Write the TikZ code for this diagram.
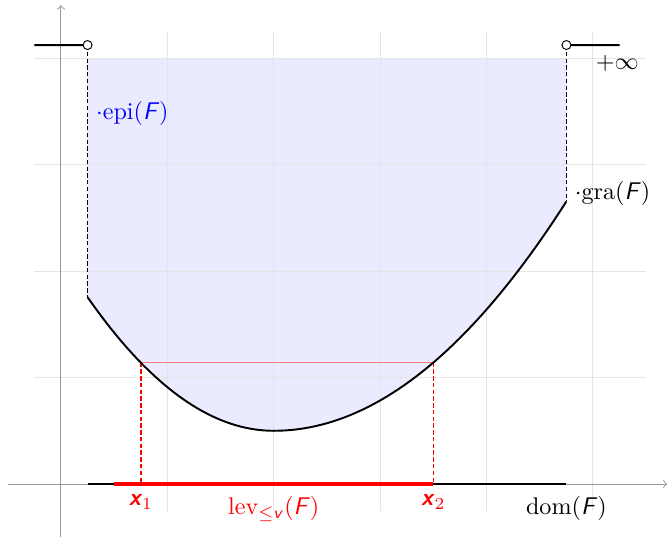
\documentclass[tikz,border=0pt]{standalone}
\usepackage{fontspec}
\usepackage{amsmath}

\begin{document}
\begin{tikzpicture}[
    scale=1.55,
    every node/.style={font=\normalsize},
    shortdash/.style={semithick, dash pattern=on 1.8pt off 1pt}
]
\useasboundingbox (-0.573,-0.489) rectangle (5.696,4.549);

% Epigraph
\fill[blue!8] (0.25,4)
    -- plot[domain=0.25:2,samples=40] (\x,{0.5+0.41*(\x-2)^2})
    -- plot[domain=2:4.75,samples=50] (\x,{0.5+0.285*(\x-2)^2})
    -- (4.75,4) -- cycle;

% Grid
\draw[gray!20, thin] (-0.25,-0.25) grid (5.5,4.25);

% Axes
\draw[->, gray!80] (-0.5,0) -- (5.7,0);
\draw[->, gray!80] (0,-0.5) -- (0,4.5);

% Points
\coordinate (lend) at (0.25,1.756);
\coordinate (rend) at (4.75,2.655);
\coordinate (x1) at (0.751,1.14);
\coordinate (x2) at (3.499,1.14);
\coordinate (x1a) at (0.751,0);
\coordinate (x2a) at (3.499,0);
\coordinate (ltop) at (0.25,4.125);
\coordinate (rtop) at (4.75,4.125);

% Level set
\draw[red, shortdash] (x1) -- (x1a);
\draw[red, shortdash] (x2) -- (x2a);
\draw[red!50] (x1) -- (x2);

% Domain
\draw[line width=1.2pt] (0.25,0) -- (4.75,0);
\draw[red, line width=1.7pt] (0.5,0) -- (x2a);

% Graph
\draw[thick]
    plot[domain=0.25:2,samples=40] (\x,{0.5+0.41*(\x-2)^2})
    -- plot[domain=2:4.75,samples=50] (\x,{0.5+0.285*(\x-2)^2});

% Value +infinity
\draw[thick] (-0.25,4.125) -- (ltop);
\draw[thick] (rtop) -- (5.25,4.125);
\draw[shortdash] (ltop) -- (lend);
\draw[shortdash] (rtop) -- (rend);
\draw[fill=white] (ltop) circle (1.2pt);
\draw[fill=white] (rtop) circle (1.2pt);

% Labels
\node[below] at (5.23,4.11) {$+\infty$};
\node[right, blue] at (0.25,3.48) {$\cdot\mathrm{epi}(\textsf{\textit{F}})$};
\node[right] at (4.75,2.73) {$\cdot\mathrm{gra}(\textsf{\textit{F}})$};
\node[below, red] at (0.751,-0.02) {$\textsf{\textbf{\textit{x}}}_1$};
\node[below, red] at (3.499,-0.02) {$\textsf{\textbf{\textit{x}}}_2$};
\node[below, red] at (2,-0.04) {$\mathrm{lev}_{\leq\textsf{\textit{v}}}(\textsf{\textit{F}})$};
\node[below] at (4.75,-0.04) {$\mathrm{dom}(\textsf{\textit{F}})$};

\end{tikzpicture}
\end{document}
